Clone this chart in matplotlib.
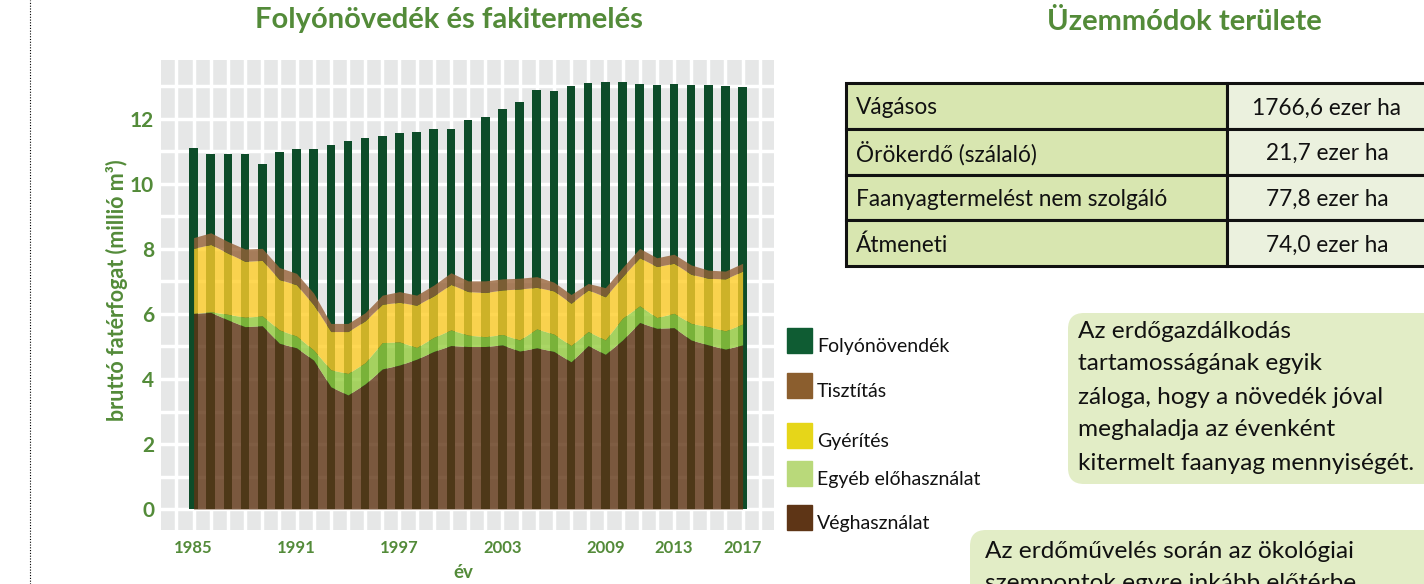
import matplotlib.pyplot as plt
from matplotlib.patches import Rectangle, FancyBboxPatch
from matplotlib.lines import Line2D
from matplotlib.transforms import IdentityTransform
from matplotlib.ticker import MultipleLocator
import numpy as np

plt.rcParams['font.family'] = ['Lato', 'DejaVu Sans']

# adatok (millió m3)
years = list(range(1985, 2018))
folyonovendek = [11.12, 10.92, 10.92, 10.92, 10.62, 10.98, 11.08, 11.08, 11.20, 11.32, 11.42,
                 11.48, 11.57, 11.60, 11.69, 11.69, 11.97, 12.06, 12.31, 12.52, 12.89, 12.86,
                 13.02, 13.11, 13.14, 13.14, 13.08, 13.05, 13.08, 13.05, 13.05, 13.02, 12.98]
veghasznalat = [6.02, 6.05, 5.82, 5.61, 5.64, 5.10, 4.96, 4.58, 3.76, 3.51, 3.85, 4.31, 4.43,
                4.61, 4.85, 5.03, 5.00, 5.00, 5.05, 4.86, 4.96, 4.85, 4.53, 5.03, 4.76, 5.20,
                5.74, 5.56, 5.58, 5.20, 5.05, 4.92, 5.05]
egyeb = [0.00, 0.02, 0.17, 0.29, 0.30, 0.41, 0.36, 0.31, 0.52, 0.66, 0.65, 0.81, 0.71, 0.36,
         0.43, 0.48, 0.35, 0.30, 0.32, 0.34, 0.58, 0.53, 0.50, 0.43, 0.44, 0.67, 0.51, 0.33,
         0.44, 0.51, 0.56, 0.56, 0.64]
gyerites = [2.00, 2.07, 1.88, 1.72, 1.71, 1.55, 1.58, 1.39, 1.18, 1.29, 1.29, 1.18, 1.22, 1.30,
            1.28, 1.40, 1.34, 1.36, 1.37, 1.57, 1.28, 1.33, 1.30, 1.28, 1.33, 1.28, 1.48, 1.57,
            1.54, 1.51, 1.49, 1.60, 1.63]
tisztitas = [0.33, 0.36, 0.36, 0.38, 0.37, 0.37, 0.35, 0.36, 0.25, 0.25, 0.25, 0.28, 0.33, 0.31,
             0.33, 0.36, 0.33, 0.36, 0.34, 0.33, 0.33, 0.27, 0.27, 0.20, 0.28, 0.28, 0.29, 0.27,
             0.28, 0.29, 0.25, 0.24, 0.24]
xtick_years = [1985, 1991, 1997, 2003, 2009, 2013, 2017]

legend_labels = ['Folyónövendék', 'Tisztítás', 'Gyérítés', 'Egyéb előhasználat', 'Véghasználat']
legend_colors = ['#0F5C33', '#8B5E2E', '#E6D619', '#B9D97A', '#5E3516']

uzemmod = ['Vágásos', 'Örökerdő (szálaló)', 'Faanyagtermelést nem szolgáló', 'Átmeneti']
terulet = ['1766,6 ezer ha', '21,7 ezer ha', '77,8 ezer ha', '74,0 ezer ha']

text1 = ['Az erdőgazdálkodás', 'tartamosságának egyik', 'záloga, hogy a növedék jóval',
         'meghaladja az évenként', 'kitermelt faanyag mennyiségét.']
text2 = ['Az erdőművelés során az ökológiai', 'szempontok egyre inkább előtérbe']

W, H = 1424, 584
GREEN = '#538B39'


def fx(x):
    return x / W


def fy(y):
    return 1 - y / H


fig = plt.figure(figsize=(W / 100, H / 100), dpi=100)
ax = fig.add_axes([fx(161), fy(530), (774 - 161) / W, (530 - 60) / H])
ax.set_facecolor('#E6E7E7')
for s in ax.spines.values():
    s.set_visible(False)

x = np.array(years)
ax.bar(x, folyonovendek, width=0.5, color='#0D4C29', zorder=2)

v = np.array(veghasznalat)
e = v + np.array(egyeb)
g = e + np.array(gyerites)
t = g + np.array(tisztitas)
a = 0.8
ax.fill_between(x, 0, v, color='#5F3414', alpha=a, lw=0, zorder=3)
ax.fill_between(x, v, e, color='#95CC3E', alpha=a, lw=0, zorder=3)
ax.fill_between(x, e, g, color='#FECD28', alpha=a, lw=0, zorder=3)
ax.fill_between(x, g, t, color='#966237', alpha=a, lw=0, zorder=3)

ax.set_xlim(1983.1, 2018.83)
ax.set_ylim(-0.646, 13.815)
ax.set_xticks(xtick_years)
ax.xaxis.set_minor_locator(MultipleLocator(1))
ax.set_yticks(range(0, 13, 2))
ax.yaxis.set_minor_locator(MultipleLocator(1))
ax.grid(True, which='both', color='white', lw=2.5)
ax.set_axisbelow(True)
ax.tick_params(which='both', length=0)
ax.tick_params(axis='y', pad=5, labelsize=15, labelcolor=GREEN)
ax.tick_params(axis='x', pad=7, labelsize=12, labelcolor=GREEN)
for lab in ax.get_yticklabels() + ax.get_xticklabels():
    lab.set_fontweight('bold')

fig.text(fx(449), fy(20), 'Folyónövedék és fakitermelés', ha='center', va='center',
         fontsize=21, fontweight='bold', color=GREEN)
fig.text(fx(117), fy(290), 'bruttó fatérfogat (millió m³)', rotation=90, ha='center',
         va='center', fontsize=15.5, fontweight='bold', color=GREEN)
fig.text(fx(463), fy(572), 'év', ha='center', va='center', fontsize=13.5,
         fontweight='bold', color=GREEN)

# szaggatott függőleges vonal bal oldalt
fig.add_artist(Line2D([fx(30), fx(30)], [0, 1], color='black', lw=0.8, ls=(0, (1, 1.5))))

# jelmagyarázat
idt = IdentityTransform()
leg_tops = [328, 373, 423, 461, 505]
for top, lab, col in zip(leg_tops, legend_labels, legend_colors):
    fig.add_artist(Rectangle((787, H - top - 25), 25, 25, color=col, transform=idt))
    fig.text(fx(817), fy(top + 24), lab, ha='left', va='baseline', fontsize=14,
             color='#111111')

# Üzemmódok területe táblázat
fig.text(fx(1184), fy(22), 'Üzemmódok területe', ha='center', va='center',
         fontsize=21, fontweight='bold', color=GREEN)
row_h = 45.75
for i, (u, tr) in enumerate(zip(uzemmod, terulet)):
    top = 83 + i * row_h
    fig.add_artist(Rectangle((846, H - top - row_h), 1227 - 846, row_h, facecolor='#D8E6B0',
                             edgecolor='#111111', lw=2.2, transform=idt))
    fig.add_artist(Rectangle((1227, H - top - row_h), 1428 - 1227, row_h, facecolor='#EBF1DE',
                             edgecolor='#111111', lw=2.2, transform=idt))
    fig.text(fx(856), fy(top + row_h / 2 + 2), u, ha='left', va='center', fontsize=16.3,
             color='#111111')
    fig.text(fx(1327), fy(top + row_h / 2 + 2), tr, ha='center', va='center', fontsize=16.3,
             color='#111111')

# szövegdobozok
box_col = '#E2EDC6'
fig.add_artist(FancyBboxPatch((1068, H - 484), 400, 484 - 313,
                              boxstyle='round,pad=0,rounding_size=16', facecolor=box_col,
                              edgecolor='none', transform=idt))
for i, line in enumerate(text1):
    fig.text(fx(1078), fy(331 + i * 33), line, ha='left', va='center', fontsize=17.6,
             color='#111111')
fig.add_artist(FancyBboxPatch((970, -40), 500, H - 530 + 40,
                              boxstyle='round,pad=0,rounding_size=16', facecolor=box_col,
                              edgecolor='none', transform=idt))
for i, line in enumerate(text2):
    fig.text(fx(985), fy(551 + i * 32), line, ha='left', va='center', fontsize=17.6,
             color='#111111')

fig.savefig('out.png', dpi=100)
